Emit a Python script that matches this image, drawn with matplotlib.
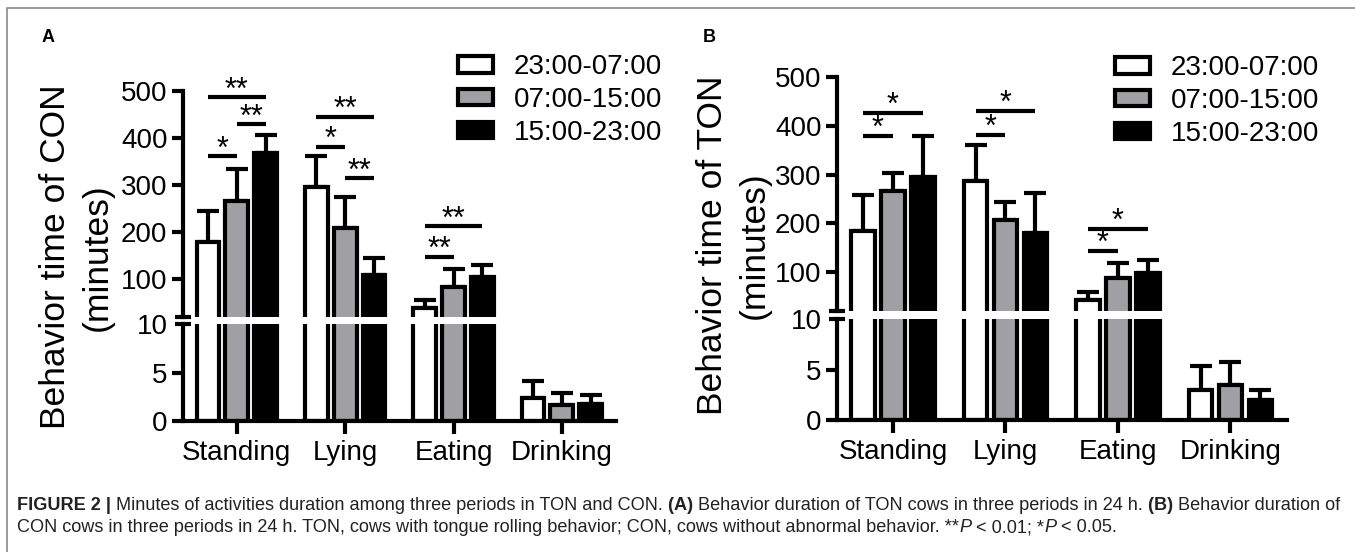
import matplotlib
matplotlib.use("Agg")
import matplotlib.pyplot as plt
import numpy as np
from matplotlib.patches import Patch
from matplotlib.lines import Line2D
from matplotlib import font_manager

plt.rcParams["font.family"] = ["Liberation Sans", "DejaVu Sans"]

W, H, DPI = 1355, 552, 100

# ---------- data ----------
behaviors = ["Standing", "Lying", "Eating", "Drinking"]
periods = ["23:00-07:00", "07:00-15:00", "15:00-23:00"]
period_colors = ["white", "#a0a0a4", "black"]

# panel A (CON): mean minutes per period (rows) and behavior (cols), upper error
con_mean = [[179, 296, 37, 2.35],
            [266, 208.5, 83, 1.6],
            [368, 108, 104, 1.75]]
con_err = [[66, 65, 18, 1.85],
           [67, 66, 37.6, 1.34],
           [38, 35.4, 25, 0.95]]
# (behavior index, period i, period j, bracket height, label)
con_sig = [(0, 0, 2, 486, "**"), (0, 1, 2, 429, "**"), (0, 0, 1, 361, "*"),
           (1, 0, 2, 445, "**"), (1, 0, 1, 381, "*"), (1, 1, 2, 314, "**"),
           (2, 0, 2, 212, "**"), (2, 0, 1, 147, "**")]

# panel B (TON)
ton_mean = [[185, 288, 43, 3.0],
            [266.5, 207, 88.5, 3.5],
            [296, 180, 97.5, 2.0]]
ton_err = [[73, 73, 15, 2.4],
           [36.5, 36, 30.5, 2.3],
           [83.5, 82, 27.5, 1.0]]
ton_sig = [(0, 0, 2, 427, "*"), (0, 0, 1, 379.5, "*"),
           (1, 0, 2, 431, "*"), (1, 0, 1, 381.5, "*"),
           (2, 0, 2, 188.5, "*"), (2, 0, 1, 144, "*")]

upper_ticks = [100, 200, 300, 400, 500]
lower_ticks = [0, 5]

BAR_W = 0.21
OFFSET = 0.266
LW = 3

fig = plt.figure(figsize=(W / DPI, H / DPI), dpi=DPI)


def px_axes(left, top, right, bottom):
    return fig.add_axes([left / W, 1 - bottom / H, (right - left) / W, (bottom - top) / H])


def draw_panel(box, up_ymin, lo_ymax, means, errs, sig, ylabel, ylab_xy, letter, letter_xy, legend_xy):
    xl, xr, up_top, up_bot, lo_top, lo_bot = box
    ax_up = px_axes(xl, up_top, xr, up_bot)
    ax_lo = px_axes(xl, lo_top, xr, lo_bot)
    x = np.arange(len(behaviors))

    for ax in (ax_up, ax_lo):
        for i in range(len(periods)):
            xs = x + (i - 1) * OFFSET
            ax.bar(xs, means[i], BAR_W, color=period_colors[i], edgecolor="black",
                   linewidth=LW, zorder=2)
            ax.errorbar(xs, means[i], yerr=[np.zeros(len(behaviors)), errs[i]], fmt="none",
                        ecolor="black", elinewidth=LW, capsize=8, capthick=LW, zorder=1)
        ax.set_xlim(-0.5, 3.5)
        for s in ("top", "right"):
            ax.spines[s].set_visible(False)
        ax.spines["left"].set_linewidth(LW)
        ax.tick_params(axis="y", labelsize=20, length=8, width=LW, pad=3)

    ax_up.set_ylim(up_ymin, 500)
    ax_up.spines["bottom"].set_visible(False)
    ax_up.set_xticks([])
    ax_up.set_yticks(upper_ticks)
    ax_up.set_yticks([up_ymin], minor=True)
    ax_up.yaxis.remove_overlapping_locs = False
    ax_up.tick_params(axis="y", which="minor", direction="inout", length=12, width=LW)

    ax_lo.set_ylim(0, lo_ymax)
    ax_lo.spines["bottom"].set_linewidth(LW)
    ax_lo.set_xticks(x)
    ax_lo.set_xticklabels(behaviors)
    ax_lo.tick_params(axis="x", labelsize=20, length=9, width=LW, pad=5)
    ax_lo.yaxis.remove_overlapping_locs = False
    ax_lo.set_yticks(lower_ticks + [lo_ymax])
    ax_lo.set_yticklabels([str(t) for t in lower_ticks] + ["10"])
    ax_lo.yaxis.get_major_ticks()[-1].tick1line.set_visible(False)
    ax_lo.set_yticks([lo_ymax], minor=True)
    ax_lo.tick_params(axis="y", which="minor", direction="inout", length=12, width=LW)

    # significance brackets
    for g, i, j, yv, lab in sig:
        x1 = g + (i - 1) * OFFSET
        x2 = g + (j - 1) * OFFSET
        ax_up.plot([x1, x2], [yv, yv], color="black", lw=LW, solid_capstyle="butt")
        ax_up.annotate(lab, ((x1 + x2) / 2, yv), xytext=(0, -1), textcoords="offset points",
                       ha="center", va="baseline", fontsize=22)

    handles = [Patch(facecolor=c, edgecolor="black", linewidth=LW) for c in period_colors]
    ax_up.legend(handles, periods, loc="upper left",
                 bbox_to_anchor=(legend_xy[0] / W, 1 - legend_xy[1] / H),
                 bbox_transform=fig.transFigure, frameon=False, fontsize=20,
                 handlelength=1.25, handleheight=0.55, handletextpad=0.75,
                 labelspacing=0.25, borderpad=0, borderaxespad=0)

    fig.text(ylab_xy[0] / W, 1 - ylab_xy[1] / H, ylabel, rotation=90, ha="center",
             va="center", multialignment="center", fontsize=25.5, linespacing=1.33)
    fig.text(letter_xy[0] / W, 1 - letter_xy[1] / H, letter, fontsize=13,
             fontweight="bold", ha="left", va="center")


draw_panel((182.7, 616, 90.7, 317, 324, 420.7), 18.5, 10.16, con_mean, con_err, con_sig,
           "Behavior time of CON\n(minutes)", (76.4, 257), "A", (42, 37), (458, 54))
draw_panel((836.7, 1286.7, 77.3, 311, 319, 420), 20, 10.1, ton_mean, ton_err, ton_sig,
           "Behavior time of TON\n(minutes)", (733.5, 245), "B", (703, 37), (1115, 55))

# outer frame (left and top edges visible)
fig.add_artist(Line2D([7 / W, 7 / W, 1.0], [0.0, 1 - 8 / H, 1 - 8 / H],
                      transform=fig.transFigure, color="#8a8a8a", lw=1.2))

# ---------- caption ----------
try:
    font_manager.findfont(font_manager.FontProperties(family="Liberation Sans Narrow"),
                          fallback_to_default=False)
    CAP_FONT = ["Liberation Sans Narrow", "DejaVu Sans"]
except Exception:
    CAP_FONT = ["Liberation Sans", "DejaVu Sans"]

caption = [
    [("FIGURE 2 | ", "bold", "normal"),
     ("Minutes of activities duration among three periods in TON and CON. ", "normal", "normal"),
     ("(A) ", "bold", "normal"),
     ("Behavior duration of TON cows in three periods in 24 h. ", "normal", "normal"),
     ("(B) ", "bold", "normal"),
     ("Behavior duration of", "normal", "normal")],
    [("CON cows in three periods in 24 h. TON, cows with tongue rolling behavior; "
      "CON, cows without abnormal behavior. **", "normal", "normal"),
     ("P", "normal", "italic"), (" < 0.01; *", "normal", "normal"),
     ("P", "normal", "italic"), (" < 0.05.", "normal", "normal")],
]

renderer = fig.canvas.get_renderer()


def seg_width(s, size, weight, style):
    t = fig.text(0, 0, "|" + s + "|", fontsize=size, fontweight=weight, fontstyle=style,
                 family=CAP_FONT)
    w1 = t.get_window_extent(renderer).width
    t.set_text("||")
    w2 = t.get_window_extent(renderer).width
    t.remove()
    return w1 - w2


base = 10
line1_w = sum(seg_width(s, base, w, st) for s, w, st in caption[0])
cap_size = base * (1326 / line1_w)

for line, ypx in zip(caption, [506, 528]):
    xpx = 17
    for s, w, st in line:
        fig.text(xpx / W, 1 - ypx / H, s, fontsize=cap_size, fontweight=w, fontstyle=st,
                 family=CAP_FONT, ha="left", va="center", color="#222222")
        xpx += seg_width(s, cap_size, w, st)

fig.savefig("out.png", dpi=DPI)
